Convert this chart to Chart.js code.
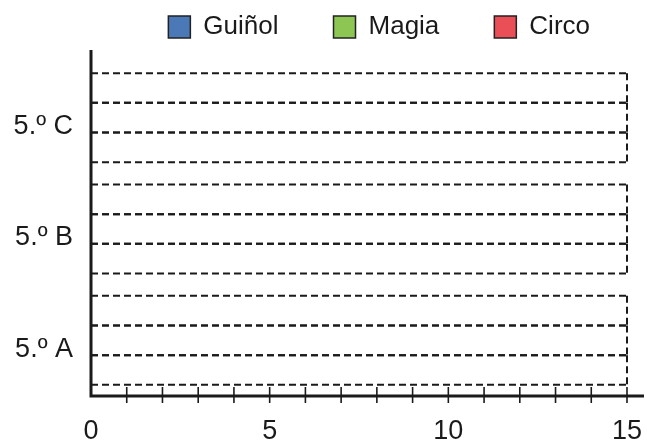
<!DOCTYPE html>
<html>
<head>
<meta charset="utf-8">
<script src="https://cdn.jsdelivr.net/npm/chart.js@4"></script>
<style>
  body { margin: 0; background: #fff; }
  #wrap { width: 647px; height: 443px; }
</style>
</head>
<body>
<div id="wrap"><canvas id="chart"></canvas></div>
<script>
// Categories (top to bottom in the picture)
const classes = ['5.º C', '5.º B', '5.º A'];
const seriesNames = ['Guiñol', 'Magia', 'Circo'];
const seriesColors = ['#4b79b8', '#8dc653', '#ea4f57'];

// Blank worksheet: every slot is an empty dashed frame reaching the axis max
const guinolSlots = [15, 15, 15];
const magiaSlots = [15, 15, 15];
const circoSlots = [15, 15, 15];
const slotValues = [guinolSlots, magiaSlots, circoSlots];

// x axis ticks
const xMin = 0;
const xMax = 15;
const xLabelled = [0, 5, 10, 15];

const ink = '#1a1a1a';
const font = "'Liberation Sans', Arial, sans-serif";

// Dashed frame around each (empty) bar slot
const slotFrames = {
  id: 'slotFrames',
  afterDatasetsDraw(chart) {
    const ctx = chart.ctx;
    ctx.save();
    ctx.strokeStyle = ink;
    ctx.lineWidth = 2;
    ctx.setLineDash([7, 4]);
    chart.data.datasets.forEach((ds, i) => {
      chart.getDatasetMeta(i).data.forEach(bar => {
        const p = bar.getProps(['x', 'y', 'base', 'height'], true);
        const top = p.y - p.height / 2;
        const bottom = p.y + p.height / 2;
        // horizontal edges all run left to right so shared edges stay dashed
        [top, bottom].forEach(yy => {
          ctx.beginPath();
          ctx.moveTo(p.base, yy);
          ctx.lineTo(p.x, yy);
          ctx.stroke();
        });
        ctx.beginPath();
        ctx.moveTo(p.x, top);
        ctx.lineTo(p.x, bottom);
        ctx.stroke();
      });
    });
    ctx.restore();
  }
};

// Thick axes with crossing tick marks
const axesLines = {
  id: 'axesLines',
  afterDraw(chart) {
    const ctx = chart.ctx;
    const area = chart.chartArea;
    const xs = chart.scales.x;
    ctx.save();
    ctx.strokeStyle = ink;
    ctx.setLineDash([]);
    ctx.lineWidth = 3;
    ctx.beginPath();
    ctx.moveTo(area.left, area.top - 12);
    ctx.lineTo(area.left, area.bottom);
    ctx.lineTo(area.right + 17, area.bottom);
    ctx.stroke();
    ctx.lineWidth = 1.6;
    xs.ticks.forEach(t => {
      if (t.value === xMin) return;
      const px = xs.getPixelForValue(t.value);
      ctx.beginPath();
      ctx.moveTo(px, area.bottom - 9);
      ctx.lineTo(px, area.bottom + 7);
      ctx.stroke();
    });
    ctx.restore();
  }
};

// Legend sits high with a wide gap under it
const legendSpace = {
  id: 'legendSpace',
  beforeInit(chart) {
    const fit = chart.legend.fit;
    chart.legend.fit = function() {
      fit.call(this);
      this.height = 103;
    };
  }
};

new Chart(document.getElementById('chart'), {
  type: 'bar',
  data: {
    labels: classes,
    datasets: seriesNames.map((name, i) => ({
      label: name,
      data: slotValues[i],
      backgroundColor: 'rgba(0,0,0,0)',
      borderWidth: 0,
      barPercentage: 1.0,
      categoryPercentage: 0.8
    }))
  },
  options: {
    indexAxis: 'y',
    responsive: true,
    maintainAspectRatio: false,
    animation: false,
    layout: { padding: { left: 0, right: 2, top: -41, bottom: 0 } },
    plugins: {
      tooltip: { enabled: false },
      legend: {
        position: 'top',
        align: 'end',
        onClick: null,
        labels: {
          boxWidth: 22,
          boxHeight: 22,
          padding: 55,
          color: ink,
          font: { family: font, size: 26 },
          generateLabels: chart => chart.data.datasets.map((ds, i) => ({
            text: ds.label,
            fillStyle: seriesColors[i],
            strokeStyle: '#222',
            lineWidth: 1.5,
            fontColor: ink,
            datasetIndex: i
          }))
        }
      }
    },
    scales: {
      x: {
        min: xMin,
        max: xMax,
        grid: { display: false, drawTicks: false },
        border: { display: false },
        afterFit: scale => { scale.height = 47; scale.paddingRight = 20; },
        ticks: {
          stepSize: 1,
          autoSkip: false,
          maxRotation: 0,
          padding: 19,
          color: ink,
          font: { family: font, size: 27 },
          callback: v => (xLabelled.includes(v) ? String(v) : '')
        }
      },
      y: {
        grid: { display: false, drawTicks: false },
        border: { display: false },
        afterFit: scale => { scale.width = 91; },
        ticks: {
          padding: 18,
          labelOffset: 9,
          color: ink,
          font: { family: font, size: 27 }
        }
      }
    }
  },
  plugins: [legendSpace, slotFrames, axesLines]
});
</script>
</body>
</html>
